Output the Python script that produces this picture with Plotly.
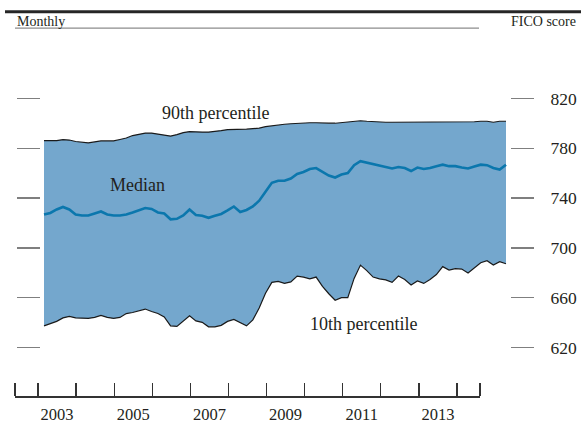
import plotly.graph_objects as go

# ---------------- data ----------------
# bimonthly observations, first at ~early 2003, last at ~spring 2015 (chart's own x scale)
X_START = 2003.1575
X_END = 2015.287

p90 = [786.3, 786.3, 786.3, 787.1, 786.7, 785.5, 784.8, 784.4, 785.2, 786.0,
       786.0, 786.0, 787.1, 788.3, 790.3, 791.5, 792.3, 792.3, 791.5, 791.1,
       789.9, 791.1, 792.7, 793.5, 793.1, 793.1, 793.1, 793.5, 794.3, 795.1,
       795.1, 795.1, 795.4, 795.8, 796.2, 797.4, 798.2, 799.0, 799.4, 799.8,
       800.2, 800.2, 800.6, 800.6, 800.2, 800.2, 800.2, 800.6, 801.0, 801.8,
       802.2, 801.8, 801.4, 801.0, 801.0, 801.0, 801.0, 801.4, 801.4, 801.0,
       801.0, 801.0, 801.0, 801.4, 801.0, 801.4, 801.4, 801.0, 801.4, 801.8,
       801.8, 801.0, 801.8, 801.8]

median = [726.9, 728.1, 730.9, 732.9, 730.9, 726.9, 726.1, 726.1, 727.7, 729.3,
          726.9, 726.1, 726.1, 726.9, 728.5, 730.1, 732.1, 731.3, 728.5, 727.7,
          723.0, 723.4, 726.1, 730.9, 726.5, 725.8, 724.2, 725.8, 727.3, 730.1,
          733.3, 728.9, 730.5, 733.3, 738.0, 745.2, 752.3, 754.0, 754.0, 755.8,
          759.4, 761.0, 763.4, 764.2, 761.0, 758.2, 756.6, 759.0, 760.2, 766.5,
          769.7, 768.5, 767.3, 765.7, 764.6, 763.8, 765.0, 764.2, 761.8, 764.6,
          763.4, 764.2, 765.7, 766.9, 765.7, 765.7, 764.6, 763.8, 765.4, 766.9,
          766.5, 764.2, 763.0, 766.9]

p10 = [637.4, 639.0, 641.0, 643.8, 645.0, 643.8, 643.8, 643.4, 644.2, 645.8,
       644.2, 643.4, 644.2, 647.3, 648.1, 649.3, 650.9, 648.9, 647.3, 644.6,
       637.4, 637.0, 641.0, 645.4, 641.4, 640.2, 636.6, 636.6, 637.8, 641.0,
       642.6, 640.2, 637.4, 642.2, 651.7, 663.6, 672.3, 673.1, 671.5, 672.7,
       677.4, 676.6, 675.1, 676.6, 669.1, 663.2, 658.0, 660.0, 660.0, 675.5,
       686.2, 681.8, 676.6, 675.1, 674.3, 672.3, 677.4, 674.7, 670.3, 673.5,
       671.5, 674.7, 678.6, 685.0, 682.2, 683.4, 683.0, 679.8, 684.2, 688.1,
       689.7, 686.2, 688.9, 687.3]

y_ticks = [620, 660, 700, 740, 780, 820]
year_boundaries = list(range(2003, 2015))
year_labels = ["2003", "2005", "2007", "2009", "2011", "2013"]

n = len(p90)
x = [X_START + i * (X_END - X_START) / (n - 1) for i in range(n)]

# ---------------- geometry ----------------
W, H = 581, 424
FONT = "Liberation Serif, Times New Roman, serif"
TXT = "#231f20"
FILL = "#74a7cd"
MED = "#0b77ad"
TICKC = "#7f7f7f"

PX_2003 = 38.0
PX_PER_YEAR = 38.09


def px2year(px):
    return 2003 + (px - PX_2003) / PX_PER_YEAR


Y_PX_820 = 100.0
Y_PX_PER_UNIT = 1.2625


def py2val(py):
    return 820 - (py - Y_PX_820) / Y_PX_PER_UNIT


plot_top, plot_bot = 40, 395
y_range = [py2val(plot_bot), py2val(plot_top)]
y_domain = [1 - plot_bot / H, 1 - plot_top / H]

fig = go.Figure()
fig.add_trace(go.Scatter(x=x, y=p10, mode="lines", line=dict(color="#1a1a1a", width=1.2),
                         hoverinfo="skip", showlegend=False))
fig.add_trace(go.Scatter(x=x, y=p90, mode="lines", line=dict(color="#1a1a1a", width=1.2),
                         fill="tonexty", fillcolor=FILL, hoverinfo="skip", showlegend=False))
fig.add_trace(go.Scatter(x=x, y=median, mode="lines", line=dict(color=MED, width=2.6),
                         hoverinfo="skip", showlegend=False))

# invisible traces to activate the bottom year axis and the right value axis
fig.add_trace(go.Scatter(x=[year_boundaries[0]], y=[y_ticks[0]], xaxis="x2", yaxis="y",
                         mode="markers", marker=dict(opacity=0), hoverinfo="skip",
                         showlegend=False))
fig.add_trace(go.Scatter(x=[x[0]], y=[y_ticks[0]], xaxis="x", yaxis="y2",
                         mode="markers", marker=dict(opacity=0), hoverinfo="skip",
                         showlegend=False))

fig.update_layout(
    width=W, height=H,
    margin=dict(l=0, r=0, t=0, b=0),
    paper_bgcolor="white", plot_bgcolor="rgba(0,0,0,0)",
    font=dict(family=FONT, color=TXT, size=16),
    xaxis=dict(domain=[0, 1], range=[px2year(0), px2year(W)], visible=False,
               fixedrange=True),
    xaxis2=dict(domain=[15 / W, 480 / W], range=[px2year(15), px2year(480)],
                anchor="free", position=1 - 402 / H,
                showline=True, linecolor="#333333", linewidth=1.2,
                showgrid=False, zeroline=False,
                tickmode="array", tickvals=[y + 0.5 for y in range(2003, 2014, 2)],
                ticktext=year_labels, ticks="", ticklabelstandoff=3,
                tickfont=dict(size=16.5, family=FONT, color=TXT),
                minor=dict(tickmode="array",
                           tickvals=[px2year(15)] + year_boundaries + [px2year(480)],
                           ticks="inside", ticklen=13, tickcolor="#333333", tickwidth=1.2),
                fixedrange=True),
    yaxis=dict(domain=y_domain, range=y_range, anchor="free", position=40 / W,
               showline=False, showgrid=False, zeroline=False,
               tickmode="array", tickvals=y_ticks, showticklabels=False,
               ticks="outside", ticklen=23, tickcolor=TICKC, tickwidth=1.4,
               fixedrange=True),
    yaxis2=dict(range=y_range, overlaying="y", side="right",
                anchor="free", position=510 / W,
                showline=False, showgrid=False, zeroline=False,
                tickmode="array", tickvals=y_ticks,
                ticks="outside", ticklen=23, tickcolor=TICKC, tickwidth=1.4,
                ticklabelstandoff=13,
                tickfont=dict(size=17.5, family=FONT, color=TXT),
                fixedrange=True),
    shapes=[
        dict(type="line", xref="paper", yref="paper", x0=5 / W, x1=1, y0=1 - 12 / H, y1=1 - 12 / H,
             line=dict(color="#262626", width=3)),
        dict(type="line", xref="paper", yref="paper", x0=15 / W, x1=479 / W,
             y0=1 - 28.5 / H, y1=1 - 28.5 / H, line=dict(color="#8c8c8c", width=1.3)),
    ],
    annotations=[
        dict(text="Monthly", xref="paper", yref="paper", x=15 / W, y=1 - 22 / H,
             xanchor="left", yanchor="middle", showarrow=False, font=dict(size=14)),
        dict(text="FICO score", xref="paper", yref="paper", x=578 / W, y=1 - 22 / H,
             xanchor="right", yanchor="middle", showarrow=False, font=dict(size=14)),
        dict(text="90th percentile", x=px2year(215), y=py2val(115), xref="x", yref="y",
             showarrow=False, font=dict(size=18)),
        dict(text="Median", x=px2year(137), y=py2val(188), xref="x", yref="y",
             showarrow=False, font=dict(size=18)),
        dict(text="10th percentile", x=px2year(363), y=py2val(329), xref="x", yref="y",
             showarrow=False, font=dict(size=18)),
    ],
)

fig.write_html("out.html", config={"displayModeBar": False, "staticPlot": True},
               post_script="document.body.style.margin='0';")
